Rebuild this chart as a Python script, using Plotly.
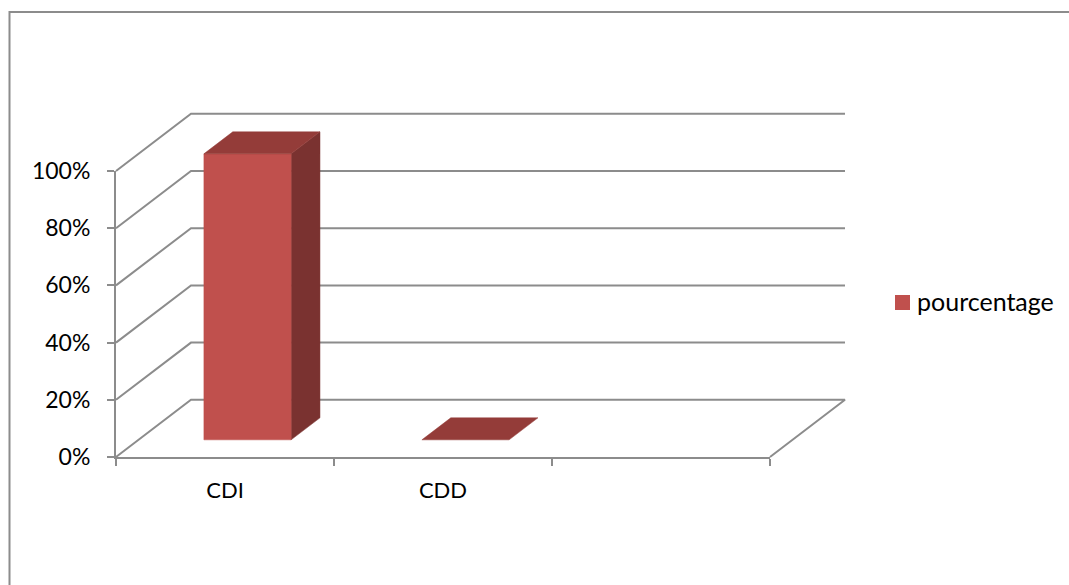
import plotly.graph_objects as go

# Chart content
categories = ["CDI", "CDD", ""]
percentages = [100, 0]
series_name = "pourcentage"
y_ticks = [0, 20, 40, 60, 80, 100]
y_tick_labels = ["0%", "20%", "40%", "60%", "80%", "100%"]

# Oblique projection of the third dimension, in axis units
DEPTH_X = 0.344
DEPTH_Y = 20
BAR_WIDTH = 0.4
BAR_DEPTH_FRONT = 0.30
BAR_DEPTH_BACK = 0.685

W, H = 1069, 585
# Pixel box of the visible value and category axes
AX_LEFT, AX_RIGHT, AX_BOTTOM, AX_TOP = 116, 770, 457, 171
GREY = "#8c8c8c"
FRONT, TOP, SIDE = "#c0504d", "#943c39", "#7a3230"
FAMILY = "Lato, Carlito, sans-serif"
FONT_Y = dict(family=FAMILY, size=23, color="#000000")
FONT_X = dict(family=FAMILY, size=22, color="#000000")
FONT_KEY = dict(family=FAMILY, size=25, color="#000000")

n = len(categories)
px_per_cat = (AX_RIGHT - AX_LEFT) / n
px_per_pct = (AX_BOTTOM - AX_TOP) / 100


def project(x, y, depth):
    """Shift an (x, y) point back along the oblique depth direction."""
    return x + depth * DEPTH_X, y + depth * DEPTH_Y


def face(corners, colour, name=None):
    xs, ys = zip(*(project(*c) for c in corners))
    return go.Scatter(
        x=list(xs) + [xs[0]], y=list(ys) + [ys[0]], xaxis="x2", yaxis="y2",
        mode="lines", fill="toself", fillcolor=colour,
        line=dict(width=0.5, color=colour),
        showlegend=False, hoverinfo="skip", name=name,
    )


fig = go.Figure()

# Keeps the visible axes attached to a subplot
fig.add_trace(go.Scatter(x=[None], y=[None], showlegend=False, hoverinfo="skip"))

# Wall gridlines: slanted on the left wall, horizontal on the back wall
for v in y_ticks:
    pts = [project(0, v, 0), project(0, v, 1), project(n, v, 1)]
    if v == 0:
        pts.append(project(n, v, 0))
    fig.add_trace(go.Scatter(
        x=[p[0] for p in pts], y=[p[1] for p in pts], xaxis="x2", yaxis="y2",
        mode="lines", line=dict(color=GREY, width=2),
        showlegend=False, hoverinfo="skip",
    ))

# Bars as three visible faces; a zero value leaves only the top face
for i, value in enumerate(percentages):
    x0 = i + 0.5 - BAR_WIDTH / 2
    x1 = i + 0.5 + BAR_WIDTH / 2
    f, b = BAR_DEPTH_FRONT, BAR_DEPTH_BACK
    if value > 0:
        fig.add_trace(face([(x1, 0, f), (x1, 0, b), (x1, value, b), (x1, value, f)], SIDE))
        fig.add_trace(face([(x0, 0, f), (x1, 0, f), (x1, value, f), (x0, value, f)], FRONT, series_name))
    fig.add_trace(face([(x0, value, f), (x1, value, f), (x1, value, b), (x0, value, b)], TOP))

fig.update_layout(
    width=W, height=H, margin=dict(l=0, r=0, t=0, b=0),
    paper_bgcolor="white", plot_bgcolor="rgba(0,0,0,0)",
    showlegend=False,
    xaxis=dict(
        domain=[AX_LEFT / W, AX_RIGHT / W], range=[0, n], automargin=False,
        showgrid=False, zeroline=False, fixedrange=True,
        showline=True, linecolor=GREY, linewidth=2,
        tickvals=[i + 0.5 for i in range(n)], ticktext=categories,
        ticks="", ticklabelstandoff=13, tickfont=FONT_X,
        minor=dict(tickvals=list(range(n + 1)), ticks="outside", ticklen=7,
                   tickwidth=2, tickcolor=GREY),
    ),
    yaxis=dict(
        domain=[1 - AX_BOTTOM / H, 1 - AX_TOP / H], range=[0, 100], automargin=False,
        showgrid=False, zeroline=False, fixedrange=True,
        showline=True, linecolor=GREY, linewidth=2,
        tickvals=y_ticks, ticktext=y_tick_labels,
        ticks="outside", ticklen=7, tickwidth=2, tickcolor=GREY,
        ticklabelstandoff=12, tickfont=FONT_Y,
    ),
    # Hidden page-wide axes on the same scale, so the depth can leave the axis box
    xaxis2=dict(
        domain=[0, 1], visible=False, anchor="y2", fixedrange=True,
        range=[-AX_LEFT / px_per_cat, (W - AX_LEFT) / px_per_cat],
    ),
    yaxis2=dict(
        domain=[0, 1], visible=False, anchor="x2", fixedrange=True,
        range=[(AX_BOTTOM - H) / px_per_pct, AX_BOTTOM / px_per_pct],
    ),
    shapes=[
        # Chart area border
        dict(type="path", xref="paper", yref="paper",
             path=f"M {9.5 / W} 0 L {9.5 / W} {1 - 12 / H} L 1 {1 - 12 / H}",
             line=dict(color=GREY, width=2)),
        # Legend key
        dict(type="rect", xref="paper", yref="paper",
             x0=895 / W, x1=910 / W, y0=1 - 310 / H, y1=1 - 295 / H,
             fillcolor=FRONT, line=dict(width=0)),
    ],
    annotations=[
        dict(text=series_name, xref="paper", yref="paper", x=915 / W, y=1 - 301 / H,
             xanchor="left", yanchor="middle", showarrow=False, font=FONT_KEY),
    ],
)

fig.write_html("out.html", config=dict(displayModeBar=False))
